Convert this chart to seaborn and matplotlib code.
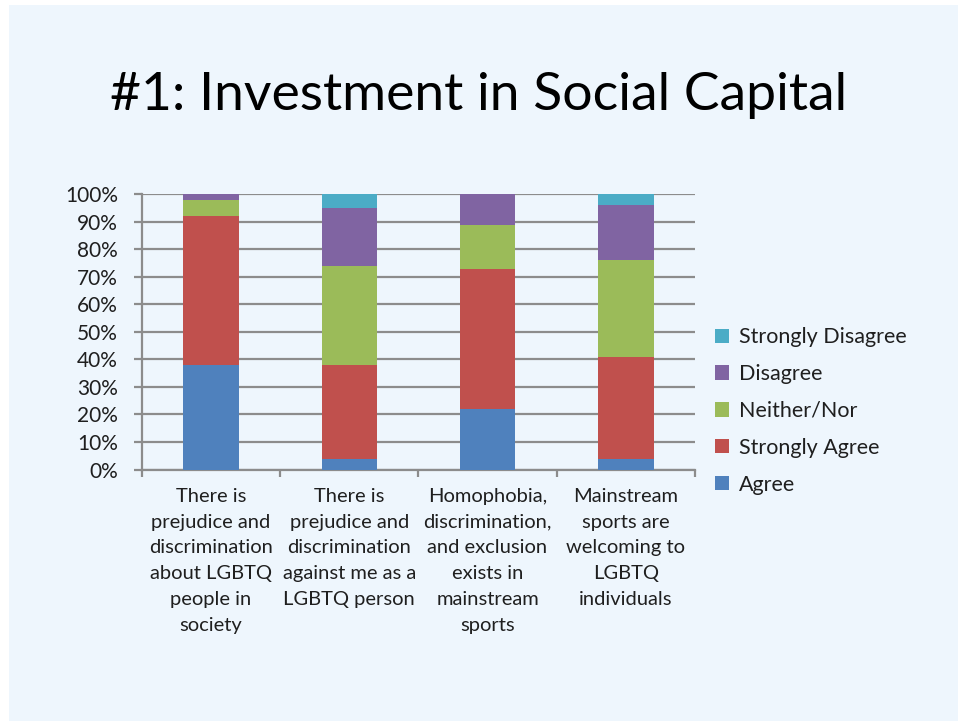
import matplotlib
matplotlib.use("Agg")
import matplotlib.pyplot as plt
from matplotlib.patches import Rectangle, Patch
import numpy as np
import pandas as pd
import seaborn as sns

# Survey questions (x categories)
questions = [
    "There is\nprejudice and\ndiscrimination\nabout LGBTQ\npeople in\nsociety",
    "There is\nprejudice and\ndiscrimination\nagainst me as a\nLGBTQ person",
    "Homophobia,\ndiscrimination,\nand exclusion\nexists in\nmainstream\nsports",
    "Mainstream\nsports are\nwelcoming to\nLGBTQ\nindividuals",
]

# Response shares (%) per question, stacked bottom to top
agree = [38, 4, 22, 4]
strongly_agree = [54, 34, 51, 37]
neither_nor = [6, 36, 16, 35]
disagree = [2, 21, 11, 20]
strongly_disagree = [0, 5, 0, 4]

series_names = ["Agree", "Strongly Agree", "Neither/Nor", "Disagree", "Strongly Disagree"]
series_values = [agree, strongly_agree, neither_nor, disagree, strongly_disagree]
series_colors = ["#4F81BD", "#C0504D", "#9BBB59", "#8064A2", "#4BACC6"]

FONT = ["Lato", "DejaVu Sans"]
TEXT = "#1f1f1f"
GRID = "#8c8c8c"
BG = "#EEF6FD"

sns.set_theme(style="white")
plt.rcParams["font.family"] = FONT

fig = plt.figure(figsize=(9.58, 7.21), dpi=100)
fig.patch.set_facecolor("white")
fig.add_artist(Rectangle((9 / 958, 0), 1 - 9 / 958, 1 - 5 / 721,
                         transform=fig.transFigure, facecolor=BG,
                         edgecolor="none", zorder=-10))

fig.text(0.5, 0.867, "#1: Investment in Social Capital", ha="center", va="center",
         fontsize=38.5, color="black")

ax = fig.add_axes([0.1479, 0.3488, 0.5776, 0.3817])
ax.set_facecolor("none")

# Cumulative totals, layered from the top series downward
cum = np.zeros(len(questions))
cums = []
for vals in series_values:
    cum = cum + np.array(vals)
    cums.append(cum.copy())

for name, total, color in reversed(list(zip(series_names, cums, series_colors))):
    d = pd.DataFrame({"question": questions, "value": total})
    sns.barplot(data=d, x="question", y="value", color=color, saturation=1,
                width=0.4, ax=ax, zorder=3, linewidth=0)

ax.set_xlim(-0.5, 3.5)
ax.set_ylim(0, 100)
ax.set_yticks(np.arange(0, 101, 10))
ax.set_yticklabels([f"{v}%" for v in range(0, 101, 10)], fontsize=15, color=TEXT)
ax.yaxis.grid(True, color=GRID, linewidth=1.6, zorder=0)
ax.set_axisbelow(True)
ax.set_xlabel("")
ax.set_ylabel("")

ax.set_xticks(range(len(questions)))
ax.set_xticklabels(questions, fontsize=14.5, color=TEXT, linespacing=1.64, va="top")
ax.set_xticks(np.arange(-0.5, 3.6, 1), minor=True)
ax.tick_params(axis="x", which="major", length=0, pad=13)
ax.tick_params(axis="x", which="minor", length=5, width=1.6, color=GRID, direction="out", bottom=True)
ax.tick_params(axis="y", which="major", length=6, width=1.6, color=GRID, direction="out", left=True, pad=11)

for side in ["top", "right"]:
    ax.spines[side].set_visible(False)
for side in ["left", "bottom"]:
    ax.spines[side].set_color(GRID)
    ax.spines[side].set_linewidth(1.6)

handles = [Patch(facecolor=c, edgecolor="none") for c in series_colors]
leg = fig.legend(handles[::-1], series_names[::-1], loc="center left",
                 bbox_to_anchor=(0.726, 0.43), frameon=False, fontsize=15.5,
                 handlelength=0.65, handleheight=0.65, handletextpad=0.45,
                 labelspacing=0.78, labelcolor=TEXT)

fig.savefig("out.png", dpi=100, facecolor=fig.get_facecolor())
